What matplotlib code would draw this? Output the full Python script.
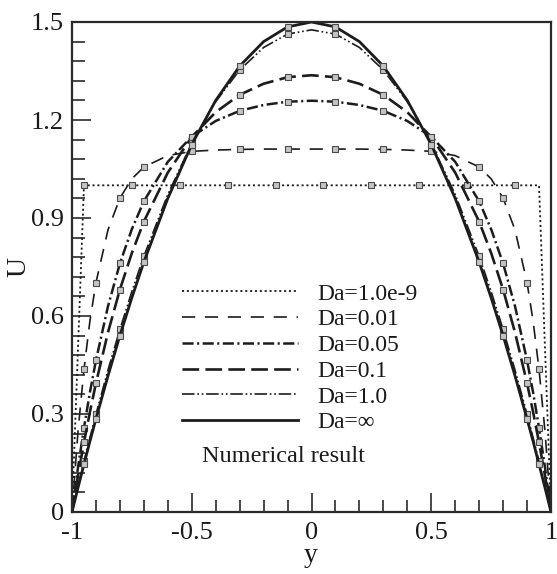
import matplotlib
matplotlib.use("Agg")
import matplotlib.pyplot as plt
from matplotlib.lines import Line2D
from matplotlib.ticker import MultipleLocator

plt.rcParams["font.family"] = ["Liberation Serif", "DejaVu Serif"]
plt.rcParams["lines.scale_dashes"] = False

# Transverse coordinate across the channel
y_pos = [-1.0, -0.975, -0.95, -0.925, -0.9, -0.85, -0.8, -0.75, -0.7, -0.6,
         -0.5, -0.4, -0.3, -0.2, -0.1, 0.0, 0.1, 0.2, 0.3, 0.4, 0.5, 0.6,
         0.7, 0.75, 0.8, 0.85, 0.9, 0.925, 0.95, 0.975, 1.0]

# Plug-like profile for the smallest Darcy number
y_plug = [-1.0, -0.95, -0.75, -0.55, -0.35, -0.15, 0.05, 0.25, 0.45, 0.65,
          0.85, 0.95, 1.0]
u_da_1e9 = [0.0, 1.0, 1.0, 1.0, 1.0, 1.0, 1.0, 1.0, 1.0, 1.0, 1.0, 1.0, 0.0]

u_da_001 = [0.0, 0.246, 0.437, 0.586, 0.702, 0.863, 0.961, 1.020, 1.056, 1.091,
            1.104, 1.108, 1.110, 1.111, 1.111, 1.111, 1.111, 1.111, 1.110, 1.108,
            1.104, 1.091, 1.056, 1.020, 0.961, 0.863, 0.702, 0.586, 0.437, 0.246, 0.0]

u_da_005 = [0.0, 0.136, 0.258, 0.367, 0.464, 0.629, 0.761, 0.866, 0.951, 1.072,
            1.149, 1.197, 1.228, 1.246, 1.256, 1.259, 1.256, 1.246, 1.228, 1.197,
            1.149, 1.072, 0.951, 0.866, 0.761, 0.629, 0.464, 0.367, 0.258, 0.136, 0.0]

u_da_01 = [0.0, 0.111, 0.213, 0.307, 0.394, 0.549, 0.681, 0.793, 0.889, 1.039,
           1.148, 1.224, 1.277, 1.311, 1.331, 1.337, 1.331, 1.311, 1.277, 1.224,
           1.148, 1.039, 0.889, 0.793, 0.681, 0.549, 0.394, 0.307, 0.213, 0.111, 0.0]

u_da_1 = [0.0, 0.079, 0.155, 0.228, 0.299, 0.434, 0.559, 0.675, 0.783, 0.972,
          1.129, 1.256, 1.353, 1.422, 1.463, 1.476, 1.463, 1.422, 1.353, 1.256,
          1.129, 0.972, 0.783, 0.675, 0.559, 0.434, 0.299, 0.228, 0.155, 0.079, 0.0]

u_da_inf = [0.0, 0.074, 0.146, 0.217, 0.285, 0.416, 0.540, 0.656, 0.765, 0.960,
            1.125, 1.260, 1.365, 1.440, 1.485, 1.500, 1.485, 1.440, 1.365, 1.260,
            1.125, 0.960, 0.765, 0.656, 0.540, 0.416, 0.285, 0.217, 0.146, 0.074, 0.0]

labels = ["Da=1.0e-9", "Da=0.01", "Da=0.05", "Da=0.1", "Da=1.0", "Da=\u221e"]
x_ticks = [-1, -0.5, 0, 0.5, 1]
x_tick_labels = ["-1", "-0.5", "0", "0.5", "1"]
y_ticks = [0, 0.3, 0.6, 0.9, 1.2, 1.5]
y_tick_labels = ["0", "0.3", "0.6", "0.9", "1.2", "1.5"]

W, H = 557, 574
fig = plt.figure(figsize=(W / 100, H / 100), dpi=100)
ax = fig.add_axes([72 / W, 1 - 512 / H, (551 - 72) / W, (512 - 22) / H])

ink = "#1c1c1c"
even_marks = list(range(2, 29, 2))
styles = [
    (y_plug, u_da_1e9, (0, (1.5, 2.0)), 1.3, list(range(1, 11))),
    (y_pos, u_da_001, (0, (9.5, 7.0)), 1.2, even_marks),
    (y_pos, u_da_005, (0, (8.0, 2.5, 1.5, 2.5)), 1.8, even_marks),
    (y_pos, u_da_01, (0, (12.0, 4.5)), 1.9, even_marks),
    (y_pos, u_da_1, (0, (9.0, 2.0, 1.2, 2.0, 1.2, 2.0)), 1.2, even_marks),
    (y_pos, u_da_inf, "-", 2.0, even_marks),
]

handles = []
for (yy, uu, ls, lw, marks), lab in zip(styles, labels):
    ax.plot(yy, uu, color=ink, linestyle=ls, linewidth=lw,
            marker="s", markersize=4.2, markevery=marks,
            markerfacecolor="#c4c4c4", markeredgecolor="#4a4a4a",
            markeredgewidth=0.8)
    handles.append(Line2D([], [], color=ink, linestyle=ls, linewidth=lw))

ax.set_xlim(-1, 1)
ax.set_ylim(0, 1.5)
ax.set_xticks(x_ticks)
ax.set_xticklabels(x_tick_labels)
ax.set_yticks(y_ticks)
ax.set_yticklabels(y_tick_labels)
ax.xaxis.set_minor_locator(MultipleLocator(0.1))
ax.yaxis.set_minor_locator(MultipleLocator(0.06))
ax.tick_params(which="both", direction="in", top=False, right=False,
               color="#2a2a2a", width=1.2, labelsize=19, labelcolor="#1a1a1a")
ax.tick_params(which="major", length=14)
ax.tick_params(which="minor", length=9)
ax.tick_params(axis="x", pad=7)
ax.tick_params(axis="y", pad=6)
for sp in ax.spines.values():
    sp.set_linewidth(1.6)
    sp.set_color("#2a2a2a")

leg = ax.legend(handles, labels, loc="upper left",
                bbox_to_anchor=(182 / W, 1 - 283 / H),
                bbox_transform=fig.transFigure, frameon=False,
                fontsize=17, handlelength=4.9, handletextpad=0.85,
                labelspacing=0.18, borderpad=0, borderaxespad=0)
for t in leg.get_texts():
    t.set_color("#1a1a1a")

fig.text(284 / W, 1 - 456 / H, "Numerical result", fontsize=17.5,
         ha="center", va="center", color="#1a1a1a")
fig.text(19 / W, 1 - 267 / H, "U", fontsize=20, rotation=90,
         ha="center", va="center", color="#1a1a1a")
fig.text(311 / W, 1 - 562 / H, "y", fontsize=20,
         ha="center", va="baseline", color="#1a1a1a")

fig.savefig("out.png", dpi=100)
